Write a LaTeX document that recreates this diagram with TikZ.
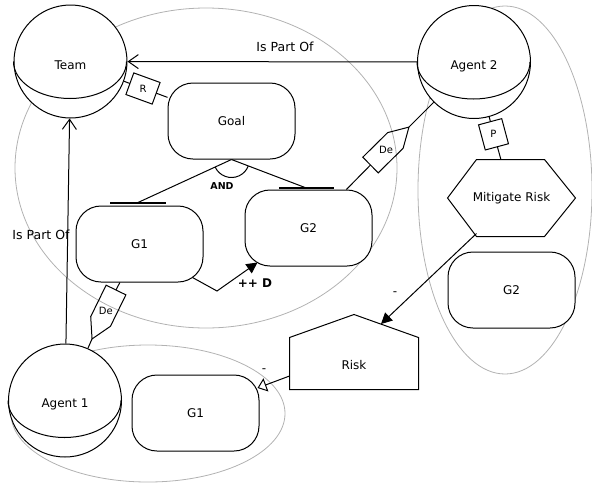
\documentclass[tikz,border=0pt]{standalone}
\usepackage{fontspec}
\setmainfont{DejaVu Sans}
\usetikzlibrary{arrows.meta,calc}
\begin{document}
\begin{tikzpicture}[x=1pt,y=1pt,
  line width=1pt,
  every node/.style={font=\fontsize{12}{14}\selectfont, inner sep=0pt},
  actor/.style={circle, draw, fill=white, minimum size=113pt},
  goalbox/.style={rectangle, rounded corners=25pt, draw, fill=white, minimum width=127pt, minimum height=76pt},
  bound/.style={draw=black!30, line width=0.8pt},
  tagbox/.style={rectangle, draw, fill=white},
  smalltext/.style={font=\fontsize{10}{12}\selectfont},
  reltext/.style={font=\fontsize{12.5}{14}\selectfont},
  isa/.style={-{Straight Barb[length=10pt,width=14pt]}},
  fillarrow/.style={-{Triangle[length=11pt,width=11pt]}},
  openarrow/.style={-{Triangle[open,length=9pt,width=14pt,fill=white]}},
  andbar/.style={line width=2pt},
]
\useasboundingbox (0,0) rectangle (592,-483);

% boundaries
\draw[bound] (206,-168) ellipse[x radius=191pt, y radius=160pt];
\draw[bound] (505,-190) ellipse[x radius=87pt, y radius=184pt];
\draw[bound] (148,-413.5) ellipse[x radius=137pt, y radius=68.5pt];

% actors
\node[actor] (team) at (70.5,-61.5) {};
\draw (team.west) arc[start angle=180,end angle=360,x radius=56.5pt,y radius=37pt];
\node (teamlab) at ([yshift=-4pt]team.center) {Team};

\node[actor] (agent2) at (474,-62) {};
\draw (agent2.west) arc[start angle=180,end angle=360,x radius=56.5pt,y radius=37pt];
\node (agent2lab) at ([yshift=-4pt]agent2.center) {Agent 2};

\node[actor] (agent1) at (65,-400.5) {};
\draw (agent1.west) arc[start angle=180,end angle=360,x radius=56.5pt,y radius=37pt];
\node (agent1lab) at ([yshift=-4pt]agent1.center) {Agent 1};

% goals
\node[goalbox] (goal) at (231.5,-121) {Goal};
\node[goalbox] (g1a) at (139.5,-244) {G1};
\node[goalbox] (g2a) at (308.5,-228) {G2};
\node[goalbox] (g1b) at (195.5,-413) {G1};
\node[goalbox] (g2b) at (511.5,-290) {G2};

% task: Mitigate Risk
\node[minimum width=127pt, minimum height=76pt] (mr) at (511.5,-198) {};
\draw[fill=white] (mr.west) -- ([xshift=29pt]mr.north west) -- ([xshift=-31pt]mr.north east)
  -- (mr.east) -- ([xshift=-31pt]mr.south east) -- ([xshift=29pt]mr.south west) -- cycle;
\node (mrlab) at (mr) {Mitigate Risk};

% Risk
\node[minimum width=128pt, minimum height=51pt] (risk) at (354,-363.5) {};
\draw[fill=white] (risk.south west) -- (risk.north west) -- ([yshift=23pt]risk.north)
  -- (risk.north east) -- (risk.south east) -- cycle;
\node (risklab) at ([yshift=-1.5pt]risk.center) {Risk};

% is part of
\draw[isa] (agent2) -- (team);
\node[reltext] (ipo1) at (285,-47) {Is Part Of};
\draw[isa] (agent1) -- (team);
\node[reltext] (ipo2) at (41,-235) {Is Part Of};

% R link
\draw (team) -- (goal);
\node[tagbox, rotate=-20, minimum width=28pt, minimum height=23pt] (rb) at (143,-88.5) {};
\node[smalltext] (rlab) at (rb) {R};

% P link
\draw (agent2) -- (mr);
\node[tagbox, rotate=15, minimum width=24pt, minimum height=26pt] (pb) at (493.5,-134.3) {};
\node[smalltext] (plab) at (pb) {P};

% AND decomposition
\coordinate (and1) at ([xshift=-1.5pt,yshift=3pt]g1a.north);
\coordinate (and2) at ([xshift=-3.5pt,yshift=2pt]g2a.north);
\draw (goal.south) -- (and1);
\draw (goal.south) -- (and2);
\draw[andbar] ([xshift=-28pt]and1) -- ([xshift=28pt]and1);
\draw[andbar] ([xshift=-26pt]and2) -- ([xshift=29pt]and2);
\draw (goal.south) ++(205:18pt) arc[start angle=205, end angle=339, radius=18pt];
\node[font=\fontsize{9.5}{11}\selectfont\bfseries] (andlab) at (222,-186) {AND};

% contribution ++D
\coordinate (cbend) at (217,-291);
\draw[fillarrow] ([xshift=-11pt,yshift=5pt]g1a.south east) -- (cbend) -- ([xshift=13pt,yshift=4pt]g2a.south west);
\node[font=\fontsize{12}{14}\selectfont\bfseries] (pplab) at (255,-283) {++ D};

% Mitigate Risk -> Risk
\draw[fillarrow] ([xshift=29pt,yshift=3pt]mr.south west) -- ([xshift=27pt,yshift=13.5pt]risk.north);
\node (minus1) at (395,-294) {-};

% Risk -> G1
\draw[openarrow] ([yshift=-12.5pt]risk.west) -- ([xshift=-2pt,yshift=25pt]g1b.east);
\node (minus2) at (264,-371) {-};

% dependency De (G1 -> Agent 1)
\begin{scope}[shift={(116,-290)}, rotate=243.9]
  \draw (0,-11) -- (35,-11) -- (54.5,0) -- (35,11) -- (0,11) -- cycle;
  \coordinate (de1b) at (0,0);
  \coordinate (de1t) at (54.5,0);
  \node[smalltext] (de1) at (23,0) {De};
\end{scope}
\draw (g1a) -- (de1b);
\draw (de1t) -- (agent1);

% dependency De (G2 -> Agent 2)
\begin{scope}[shift={(370.5,-165)}, rotate=44.6]
  \draw (0,-11) -- (35,-11) -- (54,0) -- (35,11) -- (0,11) -- cycle;
  \coordinate (de2b) at (0,0);
  \coordinate (de2t) at (54,0);
  \node[smalltext] (de2) at (22,0) {De};
\end{scope}
\draw (g2a) -- (de2b);
\draw (de2t) -- (agent2);
\end{tikzpicture}
\end{document}
